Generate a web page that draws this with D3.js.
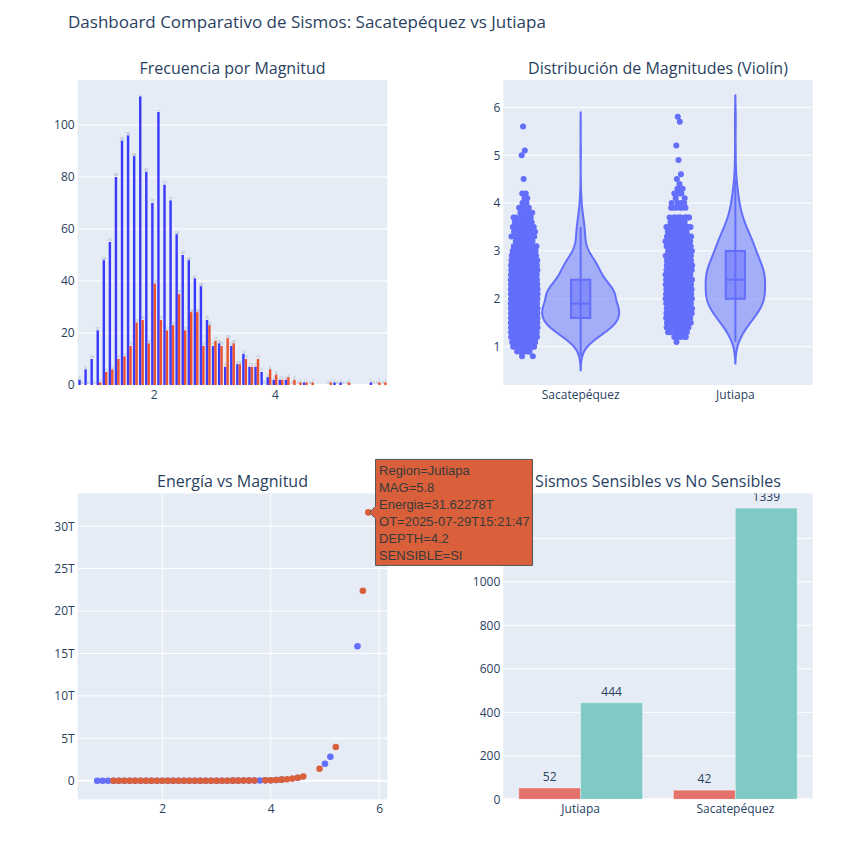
<!DOCTYPE html>
<html>
<head>
<meta charset="utf-8">
<script src="https://cdn.jsdelivr.net/npm/d3@7"></script>
<style>
  body { margin: 0; background: #fff; }
  svg { display: block; }
</style>
</head>
<body>
<svg width="847" height="841"></svg>
<script>
/* ------------------------------------------------------------ */
/* --------------------------- Data --------------------------- */
// magnitude bins that appear in the data (step 0.1)
var magBins = [0.8, 0.9, 1.0, 1.1, 1.2, 1.3, 1.4, 1.5, 1.6, 1.7, 1.8, 1.9, 2.0, 2.1, 2.2, 2.3,
  2.4, 2.5, 2.6, 2.7, 2.8, 2.9, 3.0, 3.1, 3.2, 3.3, 3.4, 3.5, 3.6, 3.7, 3.8, 3.9, 4.0, 4.1,
  4.2, 4.3, 4.4, 4.5, 4.6, 4.9, 5.0, 5.1, 5.2, 5.6, 5.7, 5.8];
// number of quakes per bin
var countSac = [2, 6, 10, 21, 48, 55, 80, 94, 96, 88, 111, 82, 70, 105, 77, 71,
  58, 50, 48, 41, 38, 25, 15, 16, 7, 15, 8, 12, 7, 7, 5, 3, 2, 2,
  2, 0, 0, 1, 0, 0, 1, 1, 0, 1, 0, 0];
var countJut = [0, 0, 0, 1, 5, 6, 10, 11, 15, 24, 25, 16, 39, 25, 21, 23,
  35, 21, 28, 28, 15, 23, 17, 15, 18, 16, 8, 10, 7, 10, 0, 6, 4, 2,
  3, 2, 1, 1, 1, 1, 0, 0, 1, 0, 1, 1];
// energy released per bin, in T (1e12)
var energyT = [0.000001, 0.0000014, 0.000002, 0.0000028, 0.000004, 0.0000056, 0.0000079, 0.0000112,
  0.0000158, 0.0000224, 0.0000316, 0.0000447, 0.0000631, 0.0000891, 0.000126, 0.000178,
  0.000251, 0.000355, 0.000501, 0.000708, 0.001, 0.00141, 0.002, 0.00282, 0.00398, 0.00562,
  0.00794, 0.0112, 0.0158, 0.0224, 0.0316, 0.0447, 0.0631, 0.0891, 0.126, 0.178, 0.251,
  0.355, 0.501, 1.413, 1.995, 2.818, 3.981, 15.85, 22.39, 31.62];

var regions = ['Sacatepéquez', 'Jutiapa'];
var sensRegions = ['Jutiapa', 'Sacatepéquez'];
var sensKeys = ['SI', 'NO'];
var sensSI = [52, 42];
var sensNO = [444, 1339];

var histTicksY = [0, 20, 40, 60, 80, 100];
var histTicksX = [2, 4];
var violinTicksY = [1, 2, 3, 4, 5, 6];
var energyTicksX = [2, 4, 6];
var energyTicksY = [0, 5, 10, 15, 20, 25, 30];
var sensTicksY = [0, 200, 400, 600, 800, 1000, 1200];

var hoverLines = ['Region=Jutiapa', 'MAG=5.8', 'Energia=31.62278T',
  'OT=2025-07-29T15:21:47', 'DEPTH=4.2', 'SENSIBLE=SI'];

/* ------------------------------------------------------------ */
/* -------------------------- Layout -------------------------- */
var FONT = '"Open Sans", "DejaVu Sans", sans-serif';
var TXT = '#2a3f5f';
var BG = '#e5ecf6';
var C_SAC = '#3a3aff', C_JUT = '#ea5230';   // histogram
var C_VIO = '#636efa';
var C_SC_SAC = '#636efa', C_SC_JUT = '#d9603b';
var C_SI = '#e4726a', C_NO = '#7fcac4';

var P1 = {x0: 77.7, x1: 387.3, y0: 80, y1: 385};
var P2 = {x0: 503.3, x1: 812.7, y0: 80, y1: 385};
var P3 = {x0: 77.7, x1: 387.3, y0: 493.5, y1: 799.3};
var P4 = {x0: 503.3, x1: 812.7, y0: 493.5, y1: 799.3};

var fmtInt = d3.format('d');
var svg = d3.select('svg');

function panel(p, title) {
  svg.append('rect')
    .attr('x', p.x0).attr('y', p.y0)
    .attr('width', p.x1 - p.x0).attr('height', p.y1 - p.y0)
    .attr('fill', BG);
  svg.append('text')
    .attr('x', (p.x0 + p.x1) / 2).attr('y', p.y0 - 6.5)
    .attr('text-anchor', 'middle')
    .attr('font-family', FONT).attr('font-size', 16).attr('fill', TXT)
    .text(title);
}

function gridY(p, y, ticks, zero) {
  svg.append('g').selectAll('line').data(ticks).join('line')
    .attr('x1', p.x0).attr('x2', p.x1)
    .attr('y1', d => y(d)).attr('y2', d => y(d))
    .attr('stroke', '#fff')
    .attr('stroke-width', d => (zero && d === 0) ? 2 : 1);
}

function gridX(p, x, ticks) {
  svg.append('g').selectAll('line').data(ticks).join('line')
    .attr('y1', p.y0).attr('y2', p.y1)
    .attr('x1', d => x(d)).attr('x2', d => x(d))
    .attr('stroke', '#fff').attr('stroke-width', 1);
}

function axisY(p, y, ticks, fmt) {
  var g = svg.append('g').attr('transform', 'translate(' + p.x0 + ',0)')
    .call(d3.axisLeft(y).tickValues(ticks).tickSize(0).tickPadding(3).tickFormat(fmt || fmtInt));
  g.select('.domain').remove();
  g.attr('font-family', FONT).attr('font-size', 12);
  g.selectAll('text').attr('fill', TXT);
}

function axisX(p, x, ticks, fmt) {
  var ax = d3.axisBottom(x).tickSize(0).tickPadding(5);
  if (ticks) ax.tickValues(ticks);
  if (fmt) ax.tickFormat(fmt);
  var g = svg.append('g').attr('transform', 'translate(0,' + p.y1 + ')').call(ax);
  g.select('.domain').remove();
  g.attr('font-family', FONT).attr('font-size', 12);
  g.selectAll('text').attr('fill', TXT);
}

// main title
svg.append('text')
  .attr('x', 68).attr('y', 28)
  .attr('font-family', FONT).attr('font-size', 17).attr('fill', TXT)
  .text('Dashboard Comparativo de Sismos: Sacatepéquez vs Jutiapa');

/* ------------------------------------------------------------ */
/* ---------------- I. Frecuencia por Magnitud ---------------- */
panel(P1, 'Frecuencia por Magnitud');
var hx = d3.scaleLinear().domain([0.75, 5.85]).range([P1.x0, P1.x1]);
var hy = d3.scaleLinear().domain([0, 117.3]).range([P1.y1, P1.y0]);
gridY(P1, hy, histTicksY, true);

var binW = (hx(0.1) - hx(0)) * 0.8 / 2;
var histSeries = [
  {vals: countSac, color: C_SAC, off: -1},
  {vals: countJut, color: C_JUT, off: 0}
];
histSeries.forEach(function (s) {
  var rows = magBins.map((m, i) => ({m: m, v: s.vals[i]}));
  var g = svg.append('g');
  g.selectAll('rect').data(rows.filter(r => r.v > 0)).join('rect')
    .attr('x', r => hx(r.m) + s.off * binW)
    .attr('width', binW)
    .attr('y', r => hy(r.v))
    .attr('height', r => hy(0) - hy(r.v))
    .attr('fill', s.color);
  // tiny outside labels, shrunk to the bar width
  g.selectAll('text').data(rows).join('text')
    .attr('x', r => hx(r.m) + s.off * binW + binW / 2)
    .attr('y', r => hy(r.v) - 0.6)
    .attr('text-anchor', 'middle')
    .attr('font-family', FONT)
    .attr('font-size', r => Math.min(4, 7 / String(r.v).length))
    .attr('fill', '#9aa3b3')
    .text(r => r.v);
});
axisY(P1, hy, histTicksY);
axisX(P1, hx, histTicksX, fmtInt);

/* ------------------------------------------------------------ */
/* ---------------- II. Distribución (Violín) ----------------- */
panel(P2, 'Distribución de Magnitudes (Violín)');
var vy = d3.scaleLinear().domain([0.2, 6.57]).range([P2.y1, P2.y0]);
var vx = d3.scaleBand().domain(regions).range([P2.x0, P2.x1]);
gridY(P2, vy, violinTicksY, false);

var VIO_HALF = 38.5;   // half width of the widest violin, px
var groups = regions.map(function (r, ri) {
  var counts = ri === 0 ? countSac : countJut;
  var vals = [];
  magBins.forEach(function (m, i) { for (var k = 0; k < counts[i]; k++) vals.push(m); });
  vals.sort(d3.ascending);
  var n = vals.length;
  var q1 = d3.quantile(vals, 0.25), med = d3.quantile(vals, 0.5), q3 = d3.quantile(vals, 0.75);
  var iqr = q3 - q1;
  var sd = d3.deviation(vals);
  var bw = 1.059 * Math.min(sd, iqr / 1.349) * Math.pow(n, -0.2);
  var lo = vals[0] - 2 * bw, hi = vals[n - 1] + 2 * bw;
  var dens = [];
  for (var k = 0; k <= 240; k++) {
    var t = lo + (hi - lo) * k / 240;
    var s = 0;
    for (var j = 0; j < n; j++) {
      var u = (t - vals[j]) / bw;
      s += Math.exp(-0.5 * u * u);
    }
    dens.push({t: t, d: s / (n * bw * Math.sqrt(2 * Math.PI))});
  }
  var upper = d3.max(vals.filter(v => v <= q3 + 1.5 * iqr));
  var lower = d3.min(vals.filter(v => v >= q1 - 1.5 * iqr));
  return {name: r, vals: vals, q1: q1, med: med, q3: q3, iqr: iqr, dens: dens,
    maxD: d3.max(dens, d => d.d), upper: upper, lower: lower};
});
var maxKDE = d3.max(groups, g => g.maxD);

groups.forEach(function (g) {
  var cx = vx(g.name) + vx.bandwidth() / 2;
  var k = VIO_HALF / maxKDE;
  // strip of all points, jittered (plotly-like density aware jitter)
  var minSpread = g.iqr * 0.01;
  var n = g.vals.length;
  var pts = g.vals.map(function (v, i) {
    var i0 = Math.max(0, i - 5), i1 = Math.min(n - 1, i + 5);
    var jf = Math.sqrt(minSpread * (i1 - i0) / (g.vals[i1] - g.vals[i0] + minSpread)) || 0;
    jf = Math.max(0, Math.min(1, jf));
    var u = ((i * 0.6180339887 + 0.37) % 1) * 2 - 1;
    return {x: cx - 56.5 + u * 13.4 * jf, y: vy(v)};
  });
  svg.append('g').selectAll('circle').data(pts).join('circle')
    .attr('cx', p => p.x).attr('cy', p => p.y).attr('r', 3)
    .attr('fill', C_VIO);

  var line = d3.line().x(d => d[0]).y(d => d[1]);
  var left = g.dens.map(d => [cx - d.d * k, vy(d.t)]);
  var right = g.dens.slice().reverse().map(d => [cx + d.d * k, vy(d.t)]);
  svg.append('path')
    .attr('d', line(left.concat(right)) + 'Z')
    .attr('fill', 'rgba(99,110,250,0.5)')
    .attr('stroke', C_VIO).attr('stroke-width', 2).attr('stroke-linejoin', 'round');
  // inner box
  var bh = VIO_HALF * 0.25;
  svg.append('line')
    .attr('x1', cx).attr('x2', cx)
    .attr('y1', vy(g.lower)).attr('y2', vy(g.upper))
    .attr('stroke', C_VIO).attr('stroke-width', 2);
  svg.append('rect')
    .attr('x', cx - bh).attr('width', 2 * bh)
    .attr('y', vy(g.q3)).attr('height', vy(g.q1) - vy(g.q3))
    .attr('fill', 'rgba(99,110,250,0.5)')
    .attr('stroke', C_VIO).attr('stroke-width', 2);
  svg.append('line')
    .attr('x1', cx - bh).attr('x2', cx + bh)
    .attr('y1', vy(g.med)).attr('y2', vy(g.med))
    .attr('stroke', C_VIO).attr('stroke-width', 2);
});
axisY(P2, vy, violinTicksY);
axisX(P2, vx);

/* ------------------------------------------------------------ */
/* ---------------- III. Energía vs Magnitud ------------------ */
panel(P3, 'Energía vs Magnitud');
var sx = d3.scaleLinear().domain([0.44, 6.15]).range([P3.x0, P3.x1]);
var sy = d3.scaleLinear().domain([-2.19, 33.85]).range([P3.y1, P3.y0]);
gridX(P3, sx, energyTicksX);
gridY(P3, sy, energyTicksY, true);

[{vals: countSac, color: C_SC_SAC}, {vals: countJut, color: C_SC_JUT}].forEach(function (s) {
  var rows = magBins.map((m, i) => ({m: m, e: energyT[i], c: s.vals[i]})).filter(r => r.c > 0);
  svg.append('g').selectAll('circle').data(rows).join('circle')
    .attr('cx', r => sx(r.m)).attr('cy', r => sy(r.e)).attr('r', 3.3)
    .attr('fill', s.color);
});
axisY(P3, sy, energyTicksY, d => d === 0 ? '0' : d + 'T');
axisX(P3, sx, energyTicksX, fmtInt);

/* ------------------------------------------------------------ */
/* ------------- IV. Sismos Sensibles vs No Sensibles --------- */
panel(P4, 'Sismos Sensibles vs No Sensibles');
var bx = d3.scaleBand().domain(sensRegions).range([P4.x0, P4.x1]).paddingInner(0.2).paddingOuter(0.1);
var bxi = d3.scaleBand().domain(sensKeys).range([0, bx.bandwidth()]);
var by = d3.scaleLinear().domain([0, 1406]).range([P4.y1, P4.y0]);
gridY(P4, by, sensTicksY, true);

svg.append('clipPath').attr('id', 'clip4').append('rect')
  .attr('x', P4.x0).attr('y', P4.y0)
  .attr('width', P4.x1 - P4.x0).attr('height', P4.y1 - P4.y0);

var sensRows = [];
sensRegions.forEach(function (r, i) {
  sensRows.push({r: r, k: 'SI', v: sensSI[i], c: C_SI});
  sensRows.push({r: r, k: 'NO', v: sensNO[i], c: C_NO});
});
var g4 = svg.append('g').attr('clip-path', 'url(#clip4)');
g4.selectAll('rect').data(sensRows).join('rect')
  .attr('x', d => bx(d.r) + bxi(d.k)).attr('width', bxi.bandwidth())
  .attr('y', d => by(d.v)).attr('height', d => by(0) - by(d.v))
  .attr('fill', d => d.c)
  .attr('stroke', 'rgba(255,255,255,0.35)').attr('stroke-width', 1);
g4.selectAll('text').data(sensRows).join('text')
  .attr('x', d => bx(d.r) + bxi(d.k) + bxi.bandwidth() / 2)
  .attr('y', d => by(d.v) - 7)
  .attr('text-anchor', 'middle')
  .attr('font-family', FONT).attr('font-size', 12).attr('fill', TXT)
  .text(d => d.v);
axisY(P4, by, sensTicksY);
axisX(P4, bx);

/* ------------------------------------------------------------ */
/* ------------------------ Hover label ----------------------- */
var hi = magBins.indexOf(5.8);
var ax0 = sx(magBins[hi]) + 1.2, ay0 = sy(energyT[hi]);
var boxW = 157, boxH = 106;
var hover = svg.append('g').attr('transform', 'translate(' + ax0 + ',' + ay0 + ')');
hover.append('path')
  .attr('d', 'M0,0L6,-6V' + (-boxH / 2) + 'H' + (6 + boxW) + 'V' + (boxH / 2) + 'H6V6Z')
  .attr('fill', C_SC_JUT).attr('stroke', '#555').attr('stroke-width', 1);
hover.selectAll('text').data(hoverLines).join('text')
  .attr('x', 9.5)
  .attr('y', (d, i) => -boxH / 2 + 15.5 + i * 17)
  .attr('font-family', '"Liberation Sans", Arial, sans-serif')
  .attr('font-size', 13).attr('fill', '#3a3a3a')
  .text(d => d);
</script>
</body>
</html>
